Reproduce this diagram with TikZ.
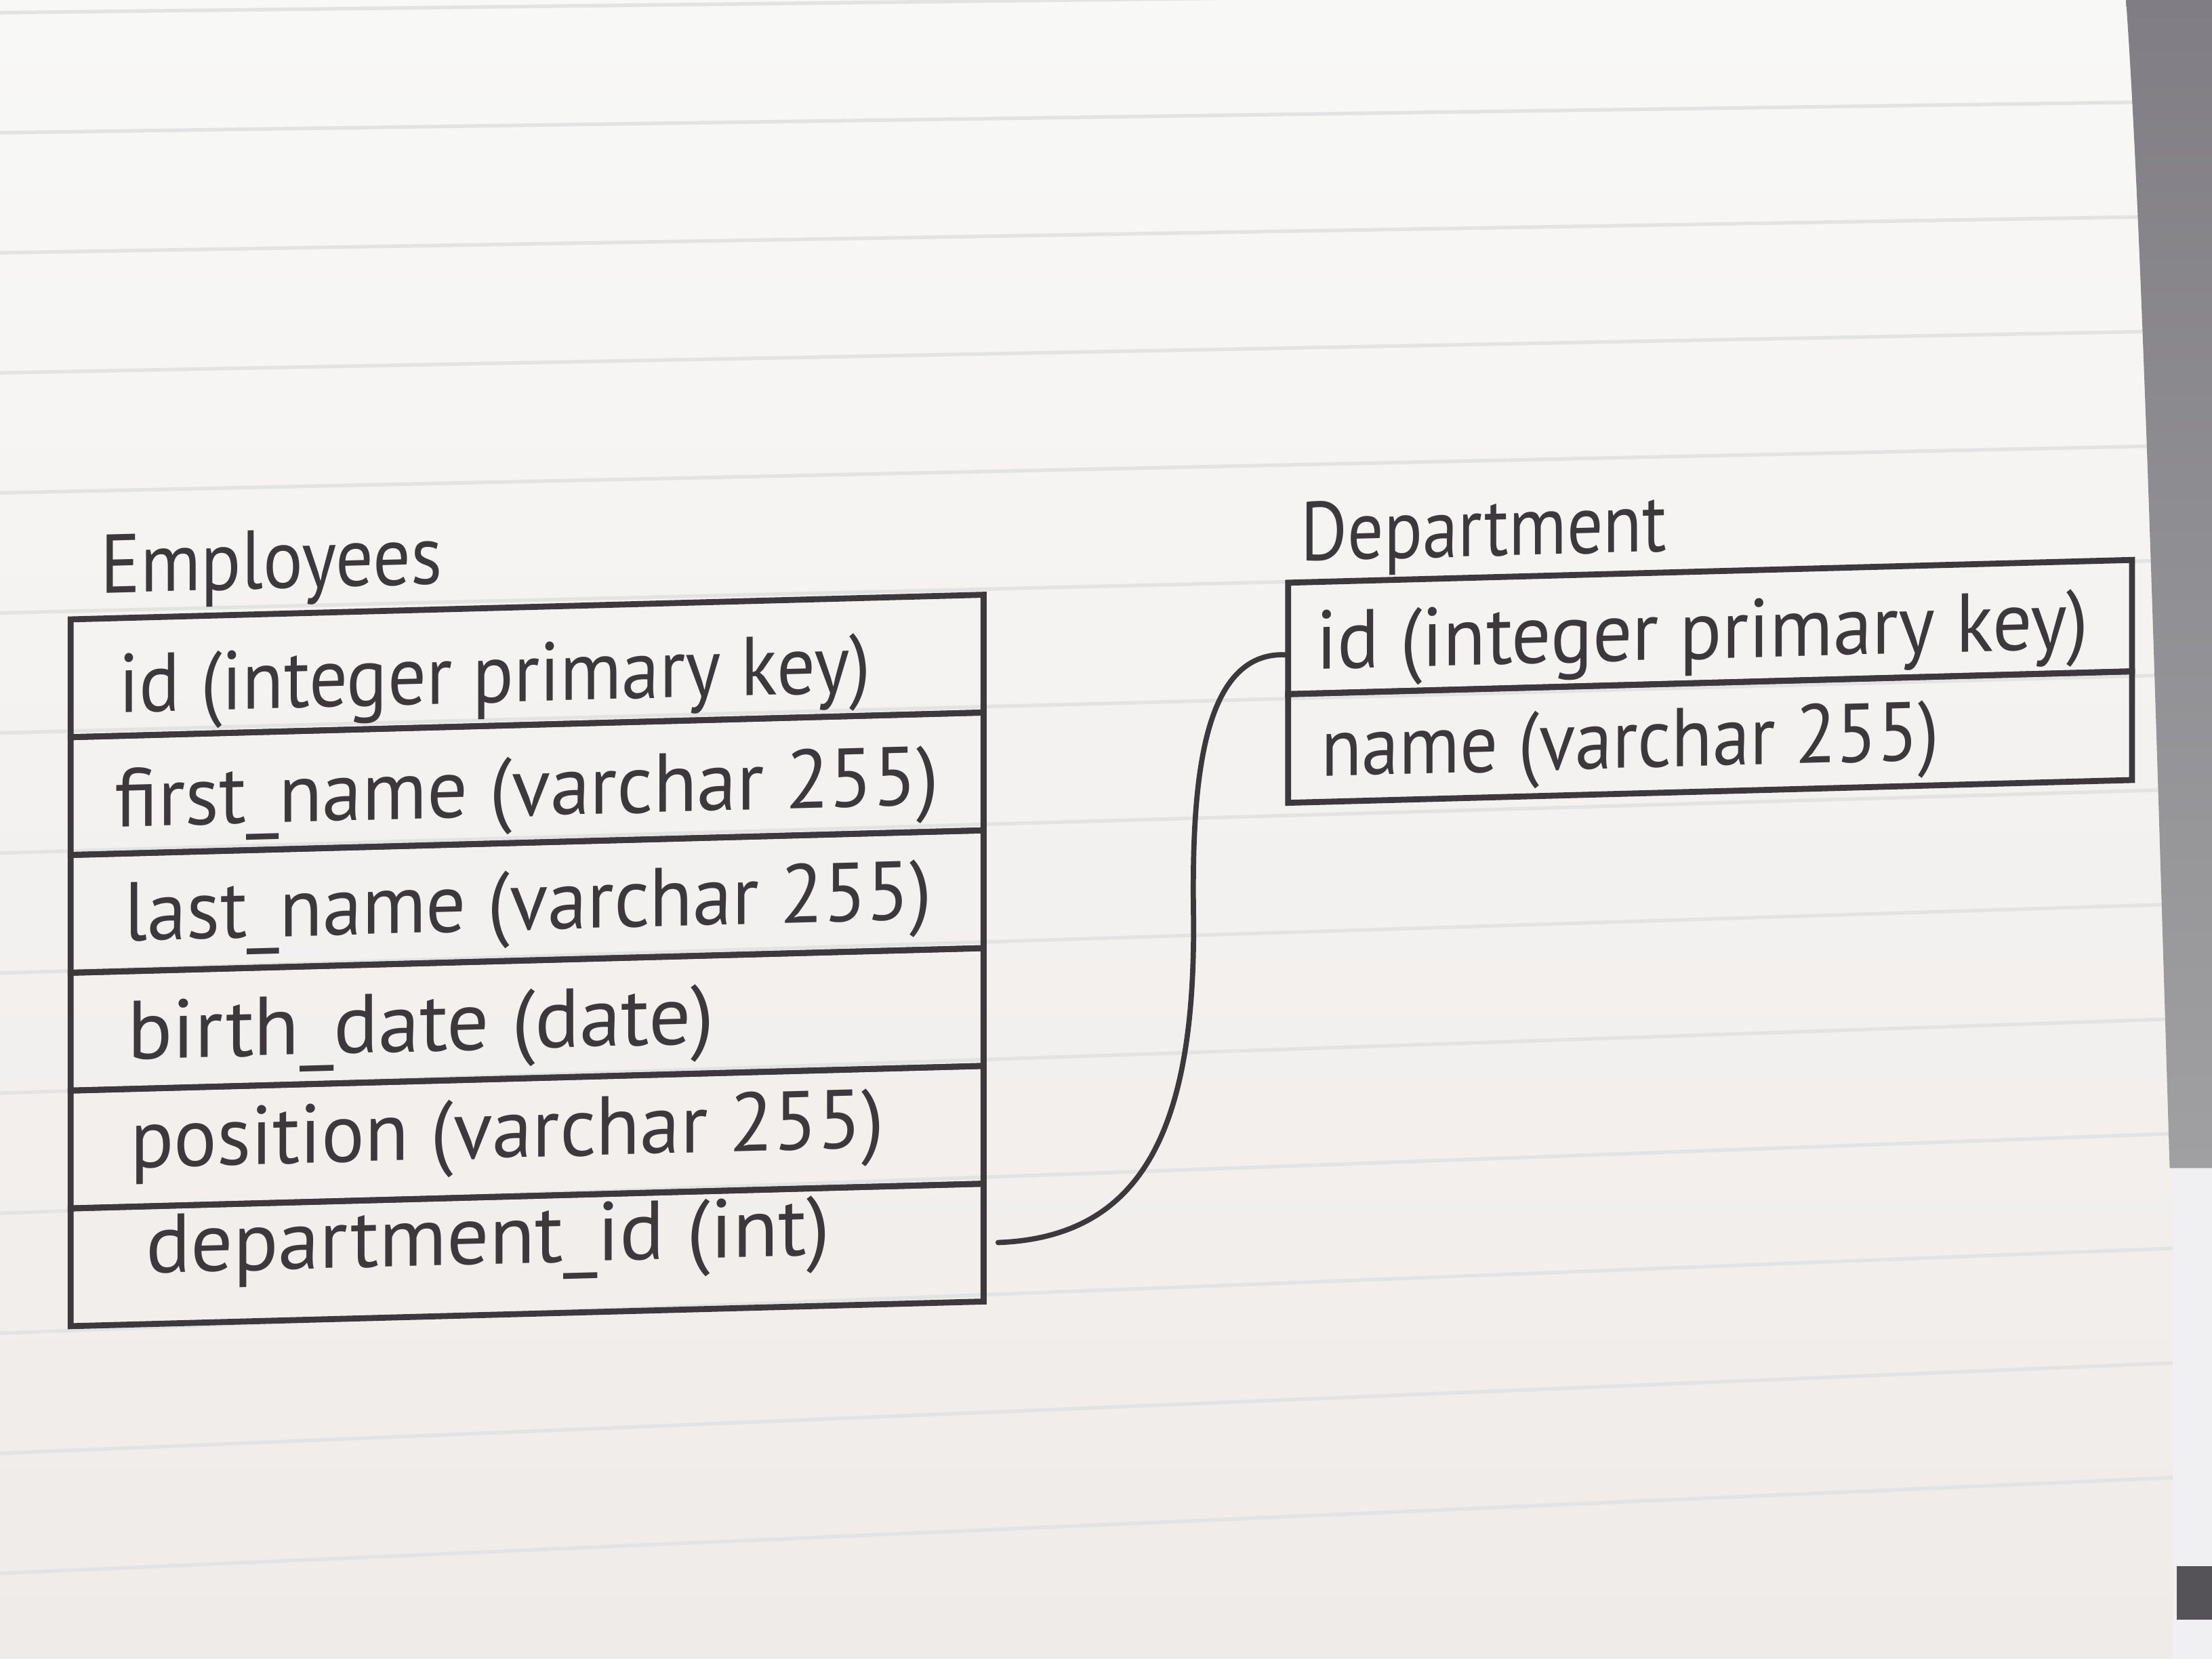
\documentclass[tikz,border=0pt]{standalone}
\usepackage{fontspec}
\setmainfont{PT Sans}
\usepackage{graphicx}
\definecolor{ink}{RGB}{60,56,60}
\definecolor{paperTop}{RGB}{248,248,246}
\definecolor{paperBot}{RGB}{239,235,233}
\definecolor{ruleline}{RGB}{228,227,227}
\definecolor{deskTop}{RGB}{128,126,132}
\definecolor{deskBot}{RGB}{160,160,162}
\definecolor{edge}{RGB}{240,240,242}
\definecolor{deskdark}{RGB}{85,83,88}
\begin{document}
\begin{tikzpicture}[x=0.020816cm, y=-0.020816cm,
  rowbox/.style={draw=ink, line width=2.5pt, rectangle, inner sep=0pt, anchor=north west},
  field/.style={text=ink, inner sep=0pt, anchor=base west, font=\fontsize{35}{40}\selectfont},
  link/.style={draw=ink, line width=2.2pt, line cap=round},
  paperrule/.style={draw=ruleline, line width=1.5pt}]

% paper
\useasboundingbox (0,0) rectangle (1568,1176);
\shade[top color=paperTop, bottom color=paperBot] (0,0) rectangle (1568,1176);
\foreach \k in {0,...,13}{
  \pgfmathsetmacro{\yl}{9+85.1*\k}
  \pgfmathsetmacro{\yr}{\yl-(22+0.0449*(\yl-94))*1.01818}
  \draw[paperrule] (0,\yl) -- (1568,\yr);
}
\shade[top color=deskTop, bottom color=deskBot] (1507,0) .. controls (1518,150) and (1528,500) .. (1538,828) -- (1568,828) -- (1568,0) -- cycle;
\fill[edge] (1540,828) rectangle (1568,1176);
\fill[deskdark] (1543,1110) rectangle (1568,1148);

% Employees table
\begin{scope}[shift={(48,0)}, yslant=0.027, transform shape]
  \node[rowbox, minimum width=13.468cm, minimum height=1.738cm] (e1) at (0,437) {};
  \node[rowbox, minimum width=13.468cm, minimum height=1.738cm] (e2) at (0,520.5) {};
  \node[rowbox, minimum width=13.468cm, minimum height=1.738cm] (e3) at (0,604) {};
  \node[rowbox, minimum width=13.468cm, minimum height=1.738cm] (e4) at (0,687.5) {};
  \node[rowbox, minimum width=13.468cm, minimum height=1.738cm] (e5) at (0,771) {};
  \node[rowbox, minimum width=13.468cm, minimum height=1.738cm] (e6) at (0,854.5) {};
  \node[field] (etitle) at (23,421) {\resizebox{5.04cm}{\height}{Employees}};
  \node[field] (et1) at (36,506) {\resizebox{11.09cm}{\height}{id (integer primary key)}};
  \node[field] (et2) at (33,587) {\resizebox{12.16cm}{\height}{first\_name (varchar 255)}};
  \node[field] (et3) at (40,668) {\resizebox{11.91cm}{\height}{last\_name (varchar 255)}};
  \node[field] (et4) at (42,752) {\resizebox{8.66cm}{\height}{birth\_date (date)}};
  \node[field] (et5) at (44,829) {\resizebox{11.12cm}{\height}{position (varchar 255)}};
  \node[field] (et6) at (55,904) {\resizebox{10.10cm}{\height}{department\_id (int)}};
\end{scope}

% Department table
\begin{scope}[shift={(911,0)}, yslant=0.027, transform shape]
  \node[rowbox, minimum width=12.45cm, minimum height=1.644cm] (d1) at (0,411) {};
  \node[rowbox, minimum width=12.45cm, minimum height=1.603cm] (d2) at (0,490) {};
  \node[field] (dtitle) at (11,398) {\resizebox{5.39cm}{\height}{Department}};
  \node[field] (dt1) at (22,475) {\resizebox{11.39cm}{\height}{id (integer primary key)}};
  \node[field] (dt2) at (25,551) {\resizebox{9.12cm}{\height}{name (varchar 255)}};
\end{scope}

% relation
\draw[link] ([xshift=0.17cm]e6.east) .. controls (810,877) and (848,800) .. (846,647)
  .. controls (844.8,555) and (852,462) .. ([yshift=-0.24cm]d1.west);
\end{tikzpicture}
\end{document}
